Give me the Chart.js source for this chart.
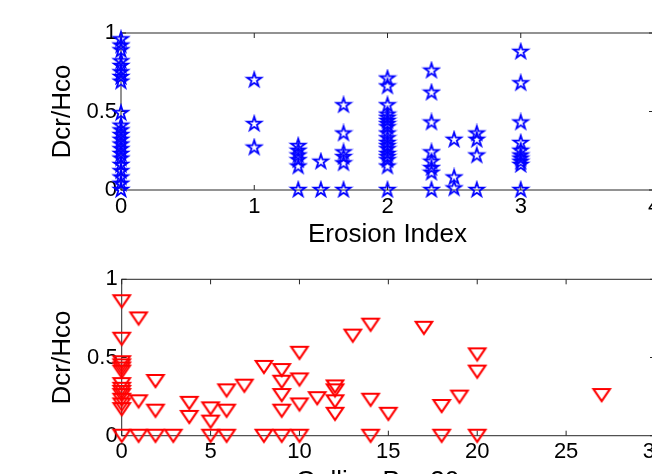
<!DOCTYPE html>
<html><head><meta charset="utf-8">
<script src="https://cdn.jsdelivr.net/npm/chart.js@4.4.1/dist/chart.umd.min.js"></script>
<style>
html,body{margin:0;padding:0;background:#fff;overflow:hidden;width:652px;height:474px;position:relative;}
canvas{position:absolute;left:0;}
#c1{top:0;width:700px;height:250px;}
#c2{top:250px;width:700px;height:260px;}
</style></head><body>
<canvas id="c1" width="700" height="250"></canvas>
<canvas id="c2" width="700" height="260"></canvas>
<script>
// ---- Top panel: Erosion Index vs Dcr/Hco ----
const erosionIndex = [
  0,0,0,0,0,0,0,0,0,0,0,0,0,0,0,0,0,0,0,0,0,0,
  1,1,1,
  1.33,1.33,1.33,1.33,1.33,1.33,
  1.5,1.5,
  1.67,1.67,1.67,1.67,1.67,1.67,
  2,2,2,2,2,2,2,2,2,2,2,2,2,2,2,2,2,2,
  2.33,2.33,2.33,2.33,2.33,2.33,2.33,2.33,
  2.5,2.5,2.5,
  2.67,2.67,2.67,2.67,
  3,3,3,3,3,3,3,3,3,3
];
const dcrHcoTop = [
  0.96,0.92,0.89,0.82,0.79,0.75,0.72,0.69,0.49,0.41,0.38,0.35,0.32,0.29,0.26,0.23,0.20,0.16,0.12,0.08,0.04,0.0,
  0.70,0.42,0.27,
  0.28,0.25,0.22,0.19,0.15,0.0,
  0.18,0.0,
  0.54,0.36,0.24,0.21,0.17,0.0,
  0.71,0.66,0.54,0.48,0.46,0.44,0.42,0.40,0.36,0.33,0.30,0.28,0.26,0.23,0.21,0.19,0.15,0.0,
  0.76,0.62,0.43,0.24,0.18,0.14,0.11,0.0,
  0.32,0.08,0.01,
  0.36,0.32,0.22,0.0,
  0.88,0.68,0.43,0.30,0.25,0.22,0.20,0.18,0.16,0.0
];
const topXTicks = [0,1,2,3,4];

// ---- Bottom panel: Gullies vs Dcr/Hco ----
const gullies = [
  0,0,0,0,0,0,0,0,0,0,0,0,0,0,
  0.95,0.95,0.95,
  1.9,1.9,1.9,
  2.9,
  3.8,3.8,
  5,5,5,
  5.9,5.9,5.9,
  6.9,
  8,8,
  9,9,9,9,9,
  10,10,10,10,
  11,
  12,12,12,12,
  13,
  14,14,14,
  15,
  17,
  18,18,
  19,
  20,20,20,
  27
];
const dcrHcoBottom = [
  0.86,0.62,0.47,0.45,0.43,0.41,0.33,0.30,0.28,0.26,0.23,0.20,0.17,0,
  0.75,0.22,0,
  0.35,0.16,0,
  0,
  0.21,0.12,
  0.175,0.09,0,
  0.29,0.16,0,
  0.32,
  0.44,0,
  0.42,0.345,0.26,0.16,0,
  0.53,0.36,0.20,0,
  0.24,
  0.315,0.29,0.22,0.14,
  0.64,
  0.71,0.23,0,
  0.14,
  0.69,
  0.19,0,
  0.25,
  0.52,0.41,0,
  0.26
];
const bottomXTicks = [0,5,10,15,20,25,30];
const yTicks = [0,0.5,1];

Chart.defaults.font.family = "'Liberation Sans', Arial, sans-serif";
Chart.defaults.color = '#000';

function makeStar(color){
  const R = 7.4, lw = 1.8, s = 20;
  const c = document.createElement('canvas'); c.width = s; c.height = s;
  const g = c.getContext('2d');
  const cx = s/2, cy = s/2;
  g.beginPath();
  for (let i = 0; i < 10; i++) {
    const r = (i % 2) ? R * 0.382 : R;
    const a = -Math.PI/2 + i * Math.PI/5;
    g.lineTo(cx + r*Math.cos(a), cy + r*Math.sin(a));
  }
  g.closePath();
  g.strokeStyle = color; g.lineWidth = lw; g.lineJoin = 'miter';
  g.stroke();
  return c;
}
function makeTriDown(color){
  const w = 22, h = 18, lw = 2;
  const c = document.createElement('canvas'); c.width = w; c.height = h;
  const g = c.getContext('2d');
  const cx = w/2, cy = h/2, hw = 8.3, hh = 6.1;
  g.beginPath();
  g.moveTo(cx - hw, cy - hh);
  g.lineTo(cx + hw, cy - hh);
  g.lineTo(cx, cy + hh);
  g.closePath();
  g.strokeStyle = color; g.lineWidth = lw; g.lineJoin = 'miter';
  g.stroke();
  return c;
}

const boxPlugin = {
  id: 'matlabBox',
  beforeDatasetsDraw(chart){
    const {ctx, chartArea:{left,right,top,bottom}, scales:{x,y}} = chart;
    ctx.save();
    ctx.strokeStyle = '#262626'; ctx.lineWidth = 1;
    ctx.strokeRect(left, top, right-left, bottom-top);
    const tl = 5;
    ctx.beginPath();
    x.ticks.forEach(t => { const p = x.getPixelForValue(t.value);
      ctx.moveTo(p, bottom); ctx.lineTo(p, bottom - tl);
      ctx.moveTo(p, top); ctx.lineTo(p, top + tl); });
    y.ticks.forEach(t => { const p = y.getPixelForValue(t.value);
      ctx.moveTo(left, p); ctx.lineTo(left + tl, p);
      ctx.moveTo(right, p); ctx.lineTo(right - tl, p); });
    ctx.stroke();
    ctx.restore();
  }
};

function makeChart(id, xs, ys, xTickVals, xMax, xTitle, marker, geo){
  const pts = xs.map((v,i) => ({x: v, y: ys[i]}));
  return new Chart(document.getElementById(id), {
    type: 'scatter',
    data: { datasets: [{ data: pts, pointStyle: marker, pointRadius: 6, clip: false }] },
    options: {
      responsive: false, animation: false, devicePixelRatio: 1,
      layout: { padding: { left: 0, top: geo.top, right: geo.right, bottom: 0 } },
      plugins: { legend: { display: false }, tooltip: { enabled: false } },
      scales: {
        x: {
          type: 'linear', min: 0, max: xMax,
          afterBuildTicks: s => { s.ticks = xTickVals.map(v => ({value: v})); },
          afterFit: s => { s.height = geo.xh; },
          grid: { display: false, drawTicks: false }, border: { display: false },
          ticks: { font: { size: 22 }, padding: geo.xpad, color: '#000', callback: v => String(v) },
          title: { display: true, text: xTitle, font: { size: 26 }, color: '#000', padding: { top: 0, bottom: geo.tpad } }
        },
        y: {
          type: 'linear', min: 0, max: 1,
          afterBuildTicks: s => { s.ticks = yTicks.map(v => ({value: v})); },
          afterFit: s => { s.width = geo.yw; },
          grid: { display: false, drawTicks: false }, border: { display: false },
          ticks: { font: { size: 22 }, padding: 4, color: '#000', callback: v => String(v) },
          title: { display: true, text: 'Dcr/Hco', font: { size: 26 }, color: '#000', padding: { top: 47, bottom: 0 } }
        }
      }
    },
    plugins: [boxPlugin]
  });
}

makeChart('c1', erosionIndex, dcrHcoTop, topXTicks, 4, 'Erosion Index', makeStar('#0000ff'),
  { top: 33, right: 46, xh: 60, xpad: 4, tpad: 0, yw: 121 });
makeChart('c2', gullies, dcrHcoBottom, bottomXTicks, 30, 'Gullies Per 30m', makeTriDown('#ff0000'),
  { top: 29.3, right: 45, xh: 74.3, xpad: 3, tpad: 13, yw: 121.7 });
</script>
</body></html>
